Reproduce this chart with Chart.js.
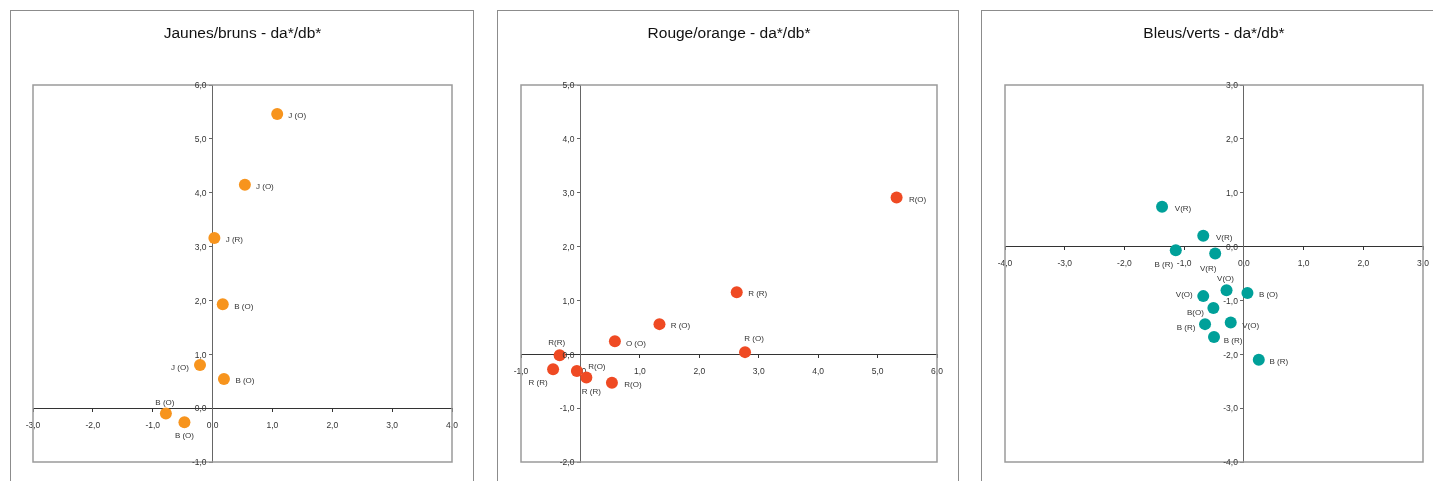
<!DOCTYPE html>
<html>
<head>
<meta charset="utf-8">
<script src="https://cdn.jsdelivr.net/npm/chart.js@4"></script>
<style>
  html, body { margin: 0; padding: 0; background: #fff; }
  body { width: 1433px; height: 481px; overflow: hidden; position: relative; }
  .frame { position: absolute; top: 10px; height: 520px; border: 1px solid #8c8c8c; box-sizing: border-box; }
  canvas { position: absolute; top: 10px; }
</style>
</head>
<body>
<div class="frame" style="left:10px;width:464px"></div>
<div class="frame" style="left:497px;width:462px"></div>
<div class="frame" style="left:981px;width:480px"></div>
<canvas id="c1" width="463" height="471" style="left:10px"></canvas>
<canvas id="c2" width="461" height="471" style="left:497px"></canvas>
<canvas id="c3" width="463" height="471" style="left:981px"></canvas>
<script>
const FONT = '"Liberation Sans", Arial, sans-serif';

// Jaunes/bruns
const jbX = [1.08, 0.54, 0.03, 0.17, -0.21, 0.19, -0.78, -0.47];
const jbY = [5.46, 4.15, 3.16, 1.93, 0.80, 0.54, -0.10, -0.26];
const jbLabels = ["J (O)", "J (O)", "J (R)", "B (O)", "J (O)", "B (O)", "B (O)", "B (O)"];

// Rouge/orange
const roX = [5.32, 2.63, 1.33, 0.58, 2.77, -0.35, -0.46, -0.06, 0.10, 0.53];
const roY = [2.91, 1.15, 0.56, 0.24, 0.04, -0.02, -0.28, -0.31, -0.43, -0.53];
const roLabels = ["R(O)", "R (R)", "R (O)", "O (O)", "R (O)", "R(R)", "R (R)", "R(O)", "R (R)", "R(O)"];

// Bleus/verts
const bvX = [-1.37, -0.68, -1.14, -0.48, -0.29, 0.06, -0.68, -0.51, -0.65, -0.22, -0.50, 0.25];
const bvY = [0.74, 0.20, -0.07, -0.13, -0.81, -0.86, -0.92, -1.14, -1.44, -1.41, -1.68, -2.10];
const bvLabels = ["V(R)", "V(R)", "B (R)", "V(R)", "V(O)", "B (O)", "V(O)", "B(O)", "B (R)", "V(O)", "B (R)", "B (R)"];

// label placement (text centre relative to the point, px)
const jbLabelOffsets = [[20, 2], [20, 2], [20, 2], [21, 3], [-20, 3], [21, 2], [-1, -11], [0, 14]];
const roLabelOffsets = [[21, 2], [21, 1], [21, 2], [21, 2], [9, -13], [-3, -13], [-15, 13], [20, -4], [5, 14], [21, 2]];
const bvLabelOffsets = [[21, 2], [21, 2], [-12, 14], [-7, 15], [-1, -11], [21, 2], [-19, -1], [-18, 5], [-19, 4], [20, 3], [19, 4], [20, 2]];

const fmt = (v) => v.toFixed(1).replace(".", ",");

const plotBorder = {
  id: "plotBorder",
  beforeDatasetsDraw(chart) {
    const { ctx, chartArea: a } = chart;
    ctx.save();
    ctx.strokeStyle = "#9a9a9a";
    ctx.lineWidth = 1.5;
    ctx.strokeRect(a.left, a.top, a.right - a.left, a.bottom - a.top);
    ctx.restore();
  }
};

// y labels sit left of the crossing axis (Chart.js puts them on the line otherwise)
const yTickLabels = {
  id: "yTickLabels",
  afterDraw(chart) {
    const { ctx, scales } = chart;
    const x0 = scales.x.getPixelForValue(0);
    ctx.save();
    ctx.font = `8.5px ${FONT}`;
    ctx.fillStyle = "#333";
    ctx.textAlign = "right";
    ctx.textBaseline = "middle";
    scales.y.ticks.forEach((t) => {
      ctx.fillText(fmt(t.value), x0 - 6, scales.y.getPixelForValue(t.value) + 1);
    });
    ctx.restore();
  }
};

const pointLabels = {
  id: "pointLabels",
  afterDatasetsDraw(chart, args, opts) {
    const { ctx } = chart;
    const meta = chart.getDatasetMeta(0);
    ctx.save();
    ctx.font = `8px ${FONT}`;
    ctx.fillStyle = "#333";
    ctx.textAlign = "center";
    ctx.textBaseline = "middle";
    meta.data.forEach((el, i) => {
      const [dx, dy] = opts.offsets[i];
      ctx.fillText(opts.labels[i], el.x + dx, el.y + dy);
    });
    ctx.restore();
  }
};

const axis = (min, max, pos, color, showLabels) => ({
  type: "linear",
  min,
  max,
  position: pos,
  ticks: {
    display: showLabels,
    stepSize: 1,
    color: "#333",
    font: { family: FONT, size: 8.5 },
    padding: 9,
    callback: (v) => fmt(v),
    maxRotation: 0,
    autoSkip: false
  },
  grid: { display: true, drawOnChartArea: false, drawTicks: true, tickLength: 3, color },
  border: { display: true, color, width: 1 }
});

const makeChart = (id, title, xs, ys, labels, offsets, color, xr, yr, pad) => {
  new Chart(document.getElementById(id), {
    type: "scatter",
    data: {
      datasets: [{
        data: xs.map((x, i) => ({ x, y: ys[i] })),
        backgroundColor: color,
        borderWidth: 0,
        pointRadius: 6,
        pointHoverRadius: 6
      }]
    },
    options: {
      responsive: false,
      animation: false,
      layout: { padding: { left: pad[0], right: pad[1], top: 0, bottom: 19 } },
      scales: {
        x: axis(xr[0], xr[1], { y: 0 }, "#333", true),
        y: axis(yr[0], yr[1], { x: 0 }, "#666", false)
      },
      plugins: {
        legend: { display: false },
        tooltip: { enabled: false },
        title: {
          display: true,
          text: title,
          color: "#111",
          font: { family: FONT, size: 15.5, weight: "normal" },
          padding: { top: 14.7, bottom: 41.7 }
        },
        pointLabels: { labels, offsets }
      }
    },
    plugins: [plotBorder, pointLabels, yTickLabels]
  });
};

makeChart("c1", "Jaunes/bruns - da*/db*", jbX, jbY, jbLabels, jbLabelOffsets, "#f7941d", [-3, 4], [-1, 6], [23, 21]);
makeChart("c2", "Rouge/orange - da*/db*", roX, roY, roLabels, roLabelOffsets, "#ef4a23", [-1, 6], [-2, 5], [24, 21]);
makeChart("c3", "Bleus/verts - da*/db*", bvX, bvY, bvLabels, bvLabelOffsets, "#00a099", [-4, 3], [-4, 3], [24, 21]);
</script>
</body>
</html>
